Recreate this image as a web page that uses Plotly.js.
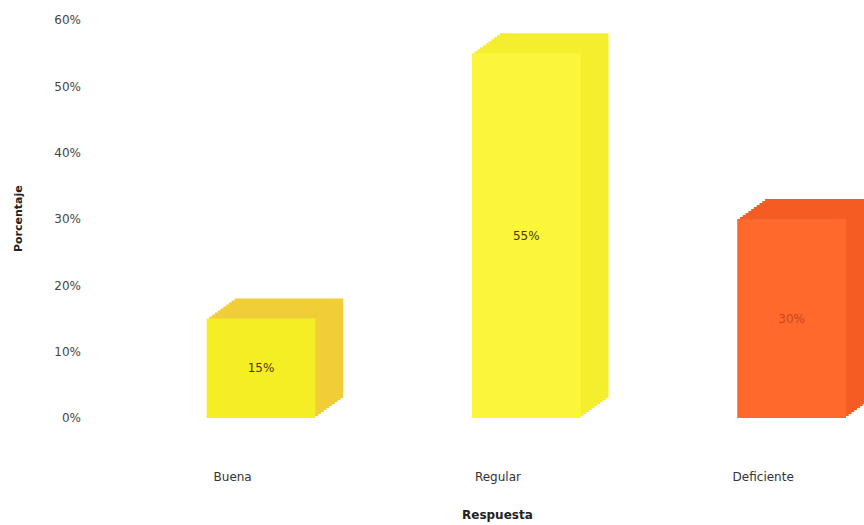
<!DOCTYPE html>
<html>
<head>
<meta charset="utf-8">
<script src="https://cdn.plot.ly/plotly-3.0.1.min.js"></script>
<style>html,body{margin:0;padding:0;background:#fff;}#chart{width:864px;height:525px;}</style>
</head>
<body>
<div id="chart"></div>
<script>
const categories = ["Buena", "Regular", "Deficiente"];
const percentages = [15, 55, 30];
const yTickValues = [0, 10, 20, 30, 40, 50, 60];

const frontColors = ["#f6ee24", "#fbf63a", "#ff6a2c"];
const sideColors = ["#f1cd38", "#f4ee2e", "#f45c24"];
const labelColors = ["#4a3600", "#4a3600", "#c8461e"];

// pseudo-3D depth: stacked layers behind the front face
const depthY = 3.0;      // in axis units
const depthX = 0.105;    // in category units
const layers = 10;
const frontOffset = -0.098;
const barWidth = 0.41;

const traces = [];
for (let i = layers; i >= 1; i--) {
  traces.push({
    type: "bar",
    x: categories,
    y: percentages,
    base: percentages.map(() => depthY * i / layers),
    offset: frontOffset + depthX * i / layers,
    width: barWidth,
    marker: {color: sideColors, line: {width: 0}},
    hoverinfo: "skip",
    showlegend: false
  });
}
traces.push({
  type: "bar",
  x: categories,
  y: percentages,
  offset: frontOffset,
  width: barWidth,
  marker: {color: frontColors, line: {width: 0}},
  text: percentages.map(v => v + "%"),
  textposition: "inside",
  insidetextanchor: "middle",
  textangle: 0,
  textfont: {family: "DejaVu Sans", size: 12, color: labelColors},
  hoverinfo: "skip",
  showlegend: false
});

const layout = {
  width: 864, height: 525,
  margin: {l: 100, r: 0, t: 20, b: 107},
  paper_bgcolor: "#ffffff",
  plot_bgcolor: "#ffffff",
  barmode: "overlay",
  font: {family: "DejaVu Sans", size: 12, color: "#333"},
  xaxis: {
    type: "category",
    range: [-0.5, 2.38],
    showgrid: false, zeroline: false, showline: false,
    ticks: "", ticklabelstandoff: 50,
    tickfont: {family: "DejaVu Sans", size: 12, color: "#333"}
  },
  yaxis: {
    range: [0, 60],
    tickvals: yTickValues,
    ticktext: yTickValues.map(v => v + "%"),
    showgrid: false, zeroline: false, showline: false,
    ticks: "", ticklabelstandoff: 18,
    tickfont: {family: "DejaVu Sans", size: 12, color: "#444"}
  },
  annotations: [
    {text: "<b>Respuesta</b>", xref: "x", yref: "paper", x: 1, y: 0,
     yanchor: "top", yshift: -88, showarrow: false,
     font: {family: "DejaVu Sans", size: 12, color: "#222"}},
    {text: "<b>Porcentaje</b>", xref: "paper", yref: "paper", x: 0, y: 0.5,
     xanchor: "center", xshift: -82, textangle: -90, showarrow: false,
     font: {family: "DejaVu Sans", size: 11, color: "#222"}}
  ]
};

Plotly.newPlot("chart", traces, layout, {displayModeBar: false, staticPlot: true});
</script>
</body>
</html>
